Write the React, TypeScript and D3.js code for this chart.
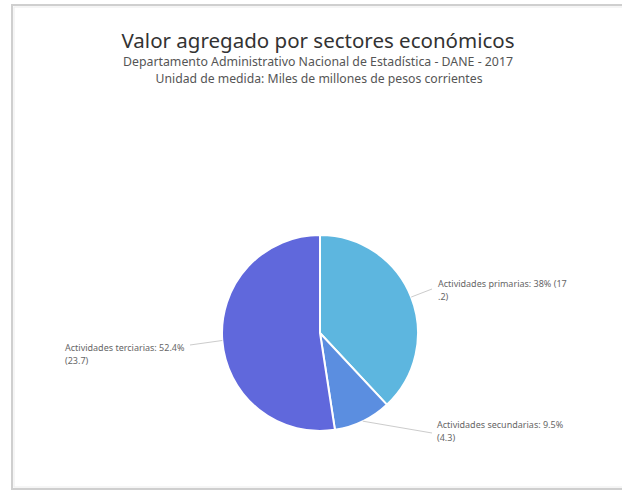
import React from "react";
import * as d3 from "d3";

const categories = ["Actividades primarias", "Actividades secundarias", "Actividades terciarias"];
const values = [17.2, 4.3, 23.7];
const percentLabels = ["38%", "9.5%", "52.4%"];
const labelLines = [
  ["Actividades primarias: 38% (17", ".2)"],
  ["Actividades secundarias: 9.5%", "(4.3)"],
  ["Actividades terciarias: 52.4%", "(23.7)"],
];
const colors = ["#5DB6DF", "#5B8EE0", "#6068DC"];
const title = "Valor agregado por sectores económicos";
const subtitle1 = "Departamento Administrativo Nacional de Estadística - DANE - 2017";
const subtitle2 = "Unidad de medida: Miles de millones de pesos corrientes";

const W = 622;
const H = 499;
const cx = 320;
const cy = 333;
const R = 98;

// label anchor positions (layout)
const labelPos = [
  { x: 438, y: 287, anchor: "start", lineEnd: [432, 289] },
  { x: 437, y: 428, anchor: "start", lineEnd: [432, 433] },
  { x: 65, y: 351, anchor: "start", lineEnd: [190, 345] },
];

export default function App() {
  const pie = d3.pie<number>().sort(null).value((d) => d)(values);
  const arc = d3.arc<d3.PieArcDatum<number>>().innerRadius(0).outerRadius(R);
  const font = "'Noto Sans', 'Open Sans', sans-serif";
  return (
    <svg
      width={W}
      height={H}
      style={{ position: "absolute", left: 0, top: 0, background: "#fff" }}
    >
      <rect x={12} y={5} width={640} height={484} fill="#fff" stroke="#cfcfcf" strokeWidth={2} />
      <rect x={14} y={7} width={640} height={480} fill="none" stroke="#ececec" strokeWidth={1} />
      <text x={318} y={48} textAnchor="middle" fontFamily={font} fontSize={20.5} fill="#333">
        {title}
      </text>
      <text x={318} y={66} textAnchor="middle" fontFamily={font} fontSize={11.8} fill="#555" textLength={390} lengthAdjust="spacingAndGlyphs">
        {subtitle1}
      </text>
      <text x={319} y={83} textAnchor="middle" fontFamily={font} fontSize={11.8} fill="#555" textLength={327} lengthAdjust="spacingAndGlyphs">
        {subtitle2}
      </text>
      <g transform={`translate(${cx},${cy})`}>
        {pie.map((d, i) => (
          <path key={categories[i]} d={arc(d) || ""} fill={colors[i]} stroke="#fff" strokeWidth={2} />
        ))}
      </g>
      {pie.map((d, i) => {
        const mid = (d.startAngle + d.endAngle) / 2;
        const x0 = cx + R * Math.sin(mid);
        const y0 = cy - R * Math.cos(mid);
        const lp = labelPos[i];
        return (
          <g key={"lbl" + i}>
            <line x1={x0} y1={y0} x2={lp.lineEnd[0]} y2={lp.lineEnd[1]} stroke="#cccccc" strokeWidth={1} />
            <text x={lp.x} y={lp.y} fontFamily={font} fontSize={9} fill="#666" textAnchor={lp.anchor as any}>
              {labelLines[i].map((t, j) => (
                <tspan key={j} x={lp.x} dy={j === 0 ? 0 : 13}>
                  {t}
                </tspan>
              ))}
            </text>
          </g>
        );
      })}
    </svg>
  );
}
